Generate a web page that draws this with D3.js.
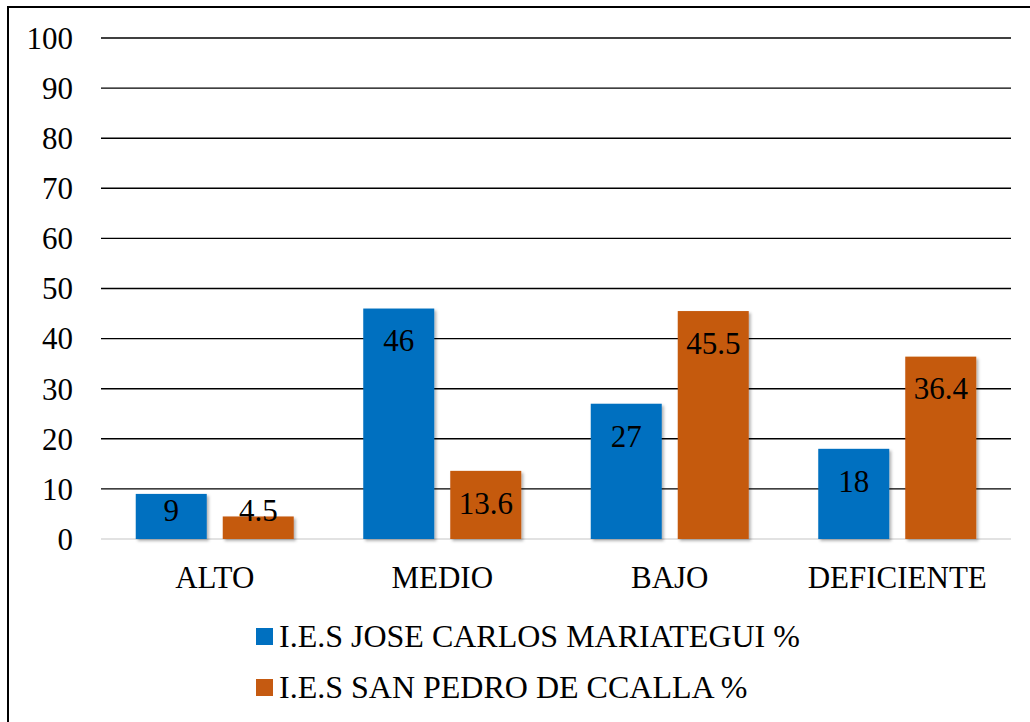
<!DOCTYPE html>
<html>
<head>
<meta charset="utf-8">
<script src="https://cdn.jsdelivr.net/npm/d3@7"></script>
<style>
  body { margin: 0; background: #fff; }
  svg text { font-family: "Liberation Serif", "Times New Roman", serif; fill: #000; }
</style>
</head>
<body>
<div id="chart"></div>
<script>
// data
const categories = ["ALTO", "MEDIO", "BAJO", "DEFICIENTE"];
const seriesNames = ["I.E.S JOSE CARLOS MARIATEGUI %", "I.E.S SAN PEDRO DE CCALLA %"];
const mariategui = [9, 46, 27, 18];
const ccalla = [4.5, 13.6, 45.5, 36.4];
const yTicks = [0, 10, 20, 30, 40, 50, 60, 70, 80, 90, 100];
const colors = ["#0070C0", "#C55A11"];

const width = 1030, height = 722;
const margin = { top: 38, right: 19, bottom: 183, left: 101 };

const svg = d3.select("#chart")
  .append("svg")
  .attr("width", width)
  .attr("height", height);

// soft drop shadow like the office chart
const defs = svg.append("defs");
const f = defs.append("filter").attr("id", "shadow")
  .attr("x", "-10%").attr("y", "-10%").attr("width", "130%").attr("height", "130%");
f.append("feDropShadow")
  .attr("dx", 2).attr("dy", 2).attr("stdDeviation", 1.5)
  .attr("flood-color", "#000").attr("flood-opacity", 0.3);

// frame
svg.append("rect")
  .attr("x", 8).attr("y", 7)
  .attr("width", 1200).attr("height", 900)
  .attr("fill", "none")
  .attr("stroke", "#000")
  .attr("stroke-width", 2);

const y = d3.scaleLinear()
  .domain([0, 100])
  .range([height - margin.bottom, margin.top]);

// one band per category, two 71px bars with 16px gap centred in it
const x0 = d3.scaleBand()
  .domain(categories)
  .range([margin.left, width - margin.right]);
const groupW = 158;
const barX = (ci, si) => x0(categories[ci]) + (x0.bandwidth() - groupW) / 2 + si * (groupW - 71);

// gridlines
svg.append("g")
  .selectAll("line")
  .data(yTicks)
  .join("line")
  .attr("x1", margin.left)
  .attr("x2", width - margin.right)
  .attr("y1", d => y(d))
  .attr("y2", d => y(d))
  .attr("stroke", d => d === 0 ? "#d9d9d9" : "#000")
  .attr("stroke-width", 1.4);

// y labels
svg.append("g")
  .selectAll("text")
  .data(yTicks)
  .join("text")
  .attr("x", 73)
  .attr("y", d => y(d))
  .attr("dy", "0.35em")
  .attr("text-anchor", "end")
  .style("font-size", "31px")
  .text(d => d);

// bars
const series = [mariategui, ccalla];
const bars = [];
series.forEach((vals, si) => {
  vals.forEach((v, ci) => bars.push({ v, si, ci }));
});

svg.append("g")
  .selectAll("rect")
  .data(bars)
  .join("rect")
  .attr("x", d => barX(d.ci, d.si))
  .attr("width", 71)
  .attr("y", d => y(d.v))
  .attr("height", d => y(0) - y(d.v))
  .attr("fill", d => colors[d.si])
  .attr("filter", "url(#shadow)");

// value labels (inside end)
svg.append("g")
  .selectAll("text")
  .data(bars)
  .join("text")
  .attr("x", d => barX(d.ci, d.si) + 35.5)
  .attr("y", d => Math.min(y(d.v) + 32, y(0) - 29))
  .attr("dy", "0.35em")
  .attr("text-anchor", "middle")
  .style("font-size", "31px")
  .text(d => d.v);

// category labels
svg.append("g")
  .selectAll("text")
  .data(categories)
  .join("text")
  .attr("x", d => x0(d) + x0.bandwidth() / 2)
  .attr("y", 588)
  .attr("text-anchor", "middle")
  .style("font-size", "31px")
  .text(d => d);

// legend
const legend = svg.append("g")
  .selectAll("g")
  .data(seriesNames)
  .join("g")
  .attr("transform", (d, i) => `translate(256, ${628 + i * 51})`);

legend.append("rect")
  .attr("width", 17)
  .attr("height", 17)
  .attr("fill", (d, i) => colors[i]);

legend.append("text")
  .attr("x", 23)
  .attr("y", 19)
  .style("font-size", "32px")
  .text(d => d);
</script>
</body>
</html>
